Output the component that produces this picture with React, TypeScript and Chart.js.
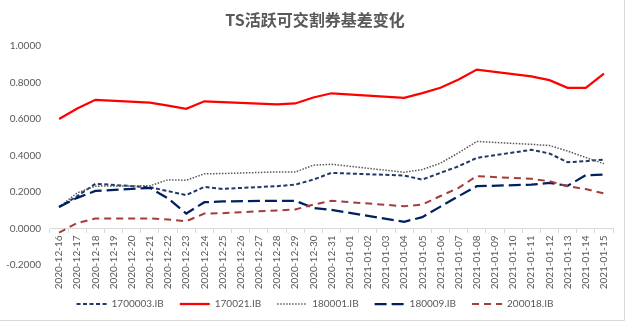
import React, { useEffect, useRef } from 'react';
import { Chart, registerables } from 'chart.js';

Chart.register(...registerables);

const categories = [
  '2020-12-16', '2020-12-17', '2020-12-18', '2020-12-19', '2020-12-20', '2020-12-21', '2020-12-22',
  '2020-12-23', '2020-12-24', '2020-12-25', '2020-12-26', '2020-12-27', '2020-12-28', '2020-12-29',
  '2020-12-30', '2020-12-31', '2021-01-01', '2021-01-02', '2021-01-03', '2021-01-04', '2021-01-05',
  '2021-01-06', '2021-01-07', '2021-01-08', '2021-01-09', '2021-01-10', '2021-01-11', '2021-01-12',
  '2021-01-13', '2021-01-14', '2021-01-15',
];

// null = non-trading day (line spans across)
const s1700003 = [0.118, 0.177, 0.245, null, null, 0.226, 0.205, 0.183, 0.228, 0.217, null, null, 0.232, 0.240, 0.268, 0.305, null, null, null, 0.290, 0.268, 0.305, 0.341, 0.387, null, null, 0.431, 0.411, 0.363, 0.369, 0.378];
const s170021 = [0.600, 0.657, 0.705, null, null, 0.690, 0.673, 0.656, 0.697, 0.692, null, null, 0.680, 0.685, 0.718, 0.741, null, null, null, 0.716, 0.742, 0.771, 0.816, 0.871, null, null, 0.833, 0.813, 0.771, 0.771, 0.849];
const s180001 = [0.118, 0.195, 0.232, null, null, 0.234, 0.267, 0.264, 0.300, 0.301, null, null, 0.310, 0.309, 0.347, 0.352, null, null, null, 0.308, 0.323, 0.358, 0.415, 0.477, null, null, 0.461, 0.455, 0.424, 0.389, 0.355];
const s180009 = [0.118, 0.168, 0.206, null, null, 0.223, 0.165, 0.082, 0.144, 0.148, null, null, 0.152, 0.152, 0.113, 0.102, null, null, null, 0.037, 0.062, 0.120, 0.177, 0.232, null, null, 0.240, 0.250, 0.234, 0.292, 0.296];
const s200018 = [-0.022, 0.030, 0.055, null, null, 0.055, 0.049, 0.040, 0.082, 0.084, null, null, 0.099, 0.104, 0.131, 0.152, null, null, null, 0.122, 0.131, 0.178, 0.223, 0.287, null, null, 0.272, 0.259, 0.232, 0.216, 0.192];

const seriesNames = ['1700003.IB', '170021.IB', '180001.IB', '180009.IB', '200018.IB'];

const yMin = -0.2;
const yMax = 1.0;
const yStep = 0.2;

const TEXT = '#595959';
const AXIS = '#D9D9D9';

const framePlugin = {
  id: 'frame',
  beforeDraw(chart: any) {
    const { ctx } = chart;
    ctx.save();
    ctx.fillStyle = '#ffffff';
    ctx.fillRect(0, 0, chart.width, chart.height);
    ctx.restore();
  },
  afterDraw(chart: any) {
    const { ctx } = chart;
    ctx.save();
    ctx.strokeStyle = AXIS;
    ctx.lineWidth = 1;
    ctx.beginPath();
    ctx.moveTo(624.5, 0);
    ctx.lineTo(624.5, 320.5);
    ctx.lineTo(0, 320.5);
    ctx.stroke();
    ctx.restore();
  },
};

export default function App() {
  const ref = useRef<HTMLCanvasElement | null>(null);

  useEffect(() => {
    if (!ref.current) return;
    Chart.defaults.font.family = "Lato, 'Noto Sans', sans-serif";
    const mk = (label: string, data: (number | null)[], color: string, width: number, dash: number[], order: number) => ({
      label,
      data,
      borderColor: color,
      backgroundColor: color,
      borderWidth: width,
      borderDash: dash,
      pointRadius: 0,
      pointHoverRadius: 0,
      tension: 0,
      spanGaps: true,
      fill: false,
      yAxisID: 'y',
      order,
    });
    const defaultGen = (Chart.defaults as any).plugins.legend.labels.generateLabels;
    const chart = new Chart(ref.current, {
      type: 'line',
      data: {
        labels: categories,
        datasets: [
          mk(seriesNames[0], s1700003, '#1F3864', 2, [4, 2.5], 5),
          mk(seriesNames[1], s170021, '#FF0000', 2.25, [], 4),
          mk(seriesNames[2], s180001, '#595959', 1.5, [1.5, 1.5], 3),
          mk(seriesNames[3], s180009, '#002060', 2.25, [12, 5], 2),
          mk(seriesNames[4], s200018, '#A33C3A', 2, [7, 5], 1),
        ],
      },
      options: {
        animation: false,
        responsive: false,
        devicePixelRatio: 1,
        layout: { padding: { left: 4, right: 0, top: 0, bottom: 4 } },
        plugins: {
          tooltip: { enabled: false },
          title: {
            display: true,
            text: 'TS活跃可交割券基差变化',
            color: TEXT,
            font: { family: "'Noto Sans CJK SC', sans-serif", size: 16, weight: 'bold', lineHeight: 1.2 },
            padding: { top: 10, bottom: 16.8 },
          },
          legend: {
            display: true,
            position: 'bottom',
            title: { display: true, text: ' ', padding: { top: 8, bottom: 0 }, font: { size: 10, lineHeight: 1 } },
            labels: {
              usePointStyle: true,
              pointStyle: 'line',
              pointStyleWidth: 30,
              padding: 16,
              color: TEXT,
              font: { size: 10 },
              sort: (a: any, b: any) => a.datasetIndex - b.datasetIndex,
              generateLabels: (c: any) => defaultGen(c).map((item: any) => {
                const ds = c.data.datasets[item.datasetIndex];
                return {
                  ...item,
                  strokeStyle: ds.borderColor,
                  lineWidth: ds.borderWidth,
                  lineDash: ds.borderDash,
                  pointStyle: 'line',
                };
              }),
            },
          },
        },
        scales: {
          x: {
            type: 'category',
            position: { y: 0 } as any,
            offset: true,
            grid: { display: true, drawOnChartArea: false, drawTicks: true, tickLength: 4, color: AXIS, offset: true },
            border: { display: true, color: AXIS, width: 1 },
            ticks: { autoSkip: false, minRotation: 90, maxRotation: 90, padding: 3, color: TEXT, font: { size: 10 } },
          },
          y: {
            type: 'linear',
            position: 'left',
            min: yMin,
            max: yMax,
            grid: { display: false, drawTicks: false },
            border: { display: false },
            ticks: {
              stepSize: yStep,
              padding: 9,
              color: TEXT,
              font: { size: 10 },
              callback: (v: any) => (Math.abs(Number(v)) < 1e-9 ? 0 : Number(v)).toFixed(4),
            },
            afterFit: (s: any) => { s.width = 46; },
          },
          y2: {
            type: 'linear',
            position: 'right',
            display: true,
            grid: { display: false, drawTicks: false },
            border: { display: false },
            ticks: { display: false },
            afterFit: (s: any) => { s.width = 13; },
          },
        },
      },
      plugins: [framePlugin],
    } as any);
    return () => chart.destroy();
  }, []);

  return (
    <div style={{ position: 'fixed', left: 0, top: 0, width: 626, height: 323, background: '#fff' }}>
      <canvas ref={ref} width={626} height={323} style={{ display: 'block', width: 626, height: 323 }} />
    </div>
  );
}
